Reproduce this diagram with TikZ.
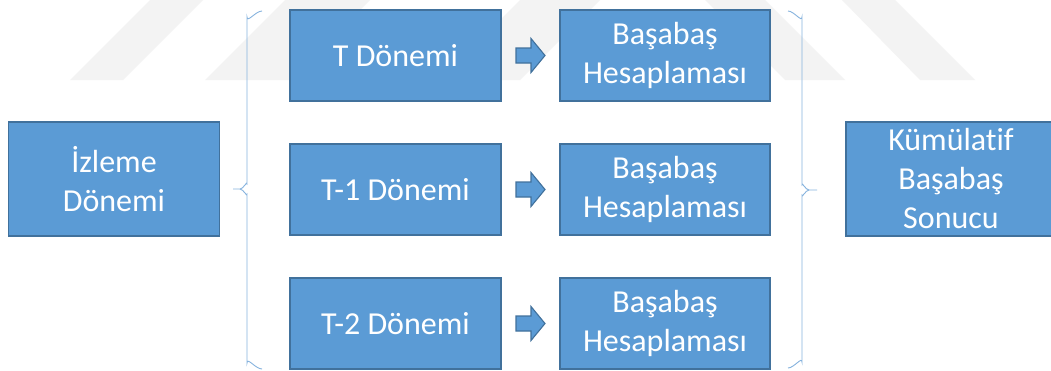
\documentclass[tikz,border=0pt]{standalone}
\usepackage{fontspec}
\setmainfont{Carlito}[Ligatures=NoCommon]
\usetikzlibrary{calc}
\definecolor{boxfill}{HTML}{5B9BD5}
\definecolor{boxline}{HTML}{41719C}
\definecolor{braceline}{HTML}{86B3DE}
\definecolor{wm}{HTML}{F3F3F3}
\tikzset{
  x=1bp, y=-1bp,
  box/.style={draw=boxline, line width=1.3bp, fill=boxfill, text=white,
    align=center, inner sep=0pt, font=\fontsize{32bp}{39bp}\selectfont},
  midbox/.style={box, minimum width=211bp, minimum height=91bp},
  resbox/.style={box, minimum width=210bp, minimum height=91bp},
  sidebox/.style={box, minimum width=211bp, minimum height=114bp},
  bracestyle/.style={draw=braceline, line width=0.9bp},
  arrowstyle/.style={draw=boxline, line width=1.1bp, fill=boxfill, line join=miter},
  blockarrow/.pic={\draw[arrowstyle] (-14.5,-7.5) -- (0.5,-7.5) -- (0.5,-17) -- (14.5,0) -- (0.5,17) -- (0.5,7.5) -- (-14.5,7.5) -- cycle;}
}
\begin{document}
\begin{tikzpicture}
\useasboundingbox (0,0) rectangle (1051,370);
\fill[white] (0,0) rectangle (1051,370);
% faint watermark
\fill[wm] (70,80) -- (123,80) -- (203,0) -- (150,0) -- cycle;
\fill[wm] (205,80) -- (290,80) -- (370,0) -- (285,0) -- cycle;
\fill[wm] (440,80) -- (520,80) -- (600,0) -- (520,0) -- cycle;
\fill[wm] (705,0) -- (765,0) -- (845,80) -- (785,80) -- cycle;
\fill[wm] (842,0) -- (895,0) -- (975,80) -- (920,80) -- cycle;

% boxes
\node[sidebox] (iz) at (114,179) {İzleme\\Dönemi};
\node[midbox] (t0) at (395.5,55.5) {T Dönemi};
\node[midbox] (t1) at (395.5,189.5) {T-1 Dönemi};
\node[midbox] (t2) at (395.5,323.5) {T-2 Dönemi};
\node[resbox] (b0) at (665,55.5) {Başabaş\\Hesaplaması};
\node[resbox] (b1) at (665,189.5) {Başabaş\\Hesaplaması};
\node[resbox] (b2) at (665,323.5) {Başabaş\\Hesaplaması};
\node[box, minimum width=210bp, minimum height=114bp] (km) at (951,179) {Kümülatif\\Başabaş\\Sonucu};

% block arrows
\foreach \r in {0,1,2}{
  \path ($(t\r.east)!0.5!(b\r.west)$) pic {blockarrow};
}

% braces
\coordinate (lb) at (233,189);
\coordinate (rb) at (817,190);
\draw[bracestyle] (262,11) to[out=180,in=-90] (247,17) -- (247,184)
  to[out=90,in=0] (240,189) -- (lb) -- (240,189) to[out=0,in=-90] (247,194) -- (247,363)
  to[out=90,in=180] (262,369);
\draw[bracestyle] (788,11) to[out=0,in=-90] (802,17) -- (802,185)
  to[out=90,in=180] (809,190) -- (rb) -- (809,190) to[out=180,in=-90] (802,195) -- (802,362)
  to[out=90,in=0] (788,368);
\end{tikzpicture}
\end{document}
